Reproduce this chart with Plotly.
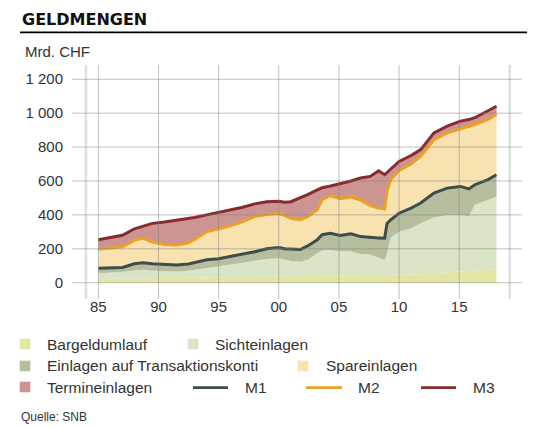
import plotly.graph_objects as go

# ---- data (Mrd. CHF); cumulative levels ----
jahr = [1985.0, 1986.0, 1987.0, 1988.0, 1988.7, 1989.5, 1990.5, 1991.5, 1992.5, 1993.0,
        1994.0, 1995.0, 1996.0, 1997.0, 1998.0, 1999.0, 2000.0, 2000.5, 2001.0, 2001.8,
        2002.4, 2003.2, 2003.6, 2004.3, 2005.1, 2006.0, 2006.8, 2007.6, 2008.3, 2008.8,
        2009.0, 2009.3, 2010.0, 2011.0, 2011.8, 2012.9, 2014.0, 2015.1, 2015.8, 2016.3,
        2017.4, 2018.1]
bargeld = [22, 23, 24, 25, 25, 26, 26, 27, 27, 28,
           28, 29, 30, 31, 32, 33, 34, 34, 35, 35,
           36, 37, 38, 38, 39, 40, 41, 42, 43, 44,
           45, 45, 46, 48, 50, 55, 60, 65, 68, 70,
           76, 80]
sicht_kum = [56, 60, 63, 72, 76, 70, 66, 66, 70, 75,
             88, 98, 108, 118, 130, 140, 144, 135, 128, 124,
             135, 175, 190, 192, 185, 185, 170, 166, 150, 134,
             174, 265, 300, 320, 350, 385, 400, 400, 392, 460,
             489, 505]
m1 = [85, 88, 90, 112, 118, 112, 107, 104, 110, 118,
      135, 142, 155, 170, 183, 200, 207, 200, 200, 196,
      217, 253, 283, 292, 278, 288, 272, 266, 264, 262,
      350, 371, 410, 440, 470, 529, 558, 568, 553, 578,
      608, 637]
m2 = [199, 206, 212, 250, 263, 240, 225, 222, 235, 255,
      300, 318, 335, 360, 390, 402, 410, 395, 380, 371,
      390, 430, 490, 513, 495, 505, 488, 455, 440, 434,
      540, 608, 662, 700, 746, 844, 884, 908, 920, 933,
      963, 992]
m3 = [253, 265, 280, 318, 335, 350, 358, 368, 376, 385,
      400, 415, 430, 445, 465, 478, 480, 475, 478, 500,
      520, 548, 560, 570, 582, 600, 618, 627, 660, 637,
      650, 671, 715, 750, 785, 884, 923, 953, 962, 973,
      1012, 1041]

x_tickvals = [1985, 1990, 1995, 2000, 2005, 2010, 2015]
x_ticktext = ["85", "90", "95", "00", "05", "10", "15"]
y_tickvals = [0, 200, 400, 600, 800, 1000, 1200]
y_ticktext = ["0", "200", "400", "600", "800", "1 000", "1 200"]

C_BAR = "#e4e6a4"
C_SICHT = "#dae4c7"
C_TRANS = "#b6be9d"
C_SPAR = "#f8e2b0"
C_TERM = "#cc9592"
C_M1 = "#3b4e4b"
C_M2 = "#e9a226"
C_M3 = "#8b2a2e"

FONT = "Liberation Sans, Arial, sans-serif"
TXT = "#333333"

OFF = 8  # page body margin
W, H = 547 - OFF, 429 - OFF
X0, X1, Y0, Y1 = 72 - OFF, 522 - OFF, 65 - OFF, 299 - OFF


def px(x):
    return (x - OFF - X0) / (X1 - X0)


def py(y):
    return (Y1 - (y - OFF)) / (Y1 - Y0)


fig = go.Figure()
fills = [(bargeld, C_BAR, "tozeroy"), (sicht_kum, C_SICHT, "tonexty"),
         (m1, C_TRANS, "tonexty"), (m2, C_SPAR, "tonexty"), (m3, C_TERM, "tonexty")]
for vals, col, mode in fills:
    fig.add_trace(go.Scatter(x=jahr, y=vals, mode="lines", line=dict(width=0, color=col),
                             fill=mode, fillcolor=col, showlegend=False, hoverinfo="skip"))
for vals, col in [(m1, C_M1), (m2, C_M2), (m3, C_M3)]:
    fig.add_trace(go.Scatter(x=jahr, y=vals, mode="lines", line=dict(width=3, color=col),
                             showlegend=False, hoverinfo="skip"))

shapes = []
grid = "rgba(130,130,130,0.5)"
for v in y_tickvals:
    shapes.append(dict(type="line", xref="paper", yref="y", x0=0, x1=1, y0=v, y1=v,
                       line=dict(color=grid, width=1), layer="above"))
for v in x_tickvals:
    shapes.append(dict(type="line", xref="x", yref="paper", x0=v, x1=v, y0=0, y1=1,
                       line=dict(color=grid, width=1), layer="above"))
for v in [1983.97, 2019.2]:
    shapes.append(dict(type="line", xref="x", yref="paper", x0=v, x1=v, y0=0, y1=1,
                       line=dict(color="#dedede", width=2.5), layer="below"))
# title rule
shapes.append(dict(type="line", xref="paper", yref="paper", x0=px(20), x1=px(527),
                   y0=py(32.3), y1=py(32.3), line=dict(color="#000000", width=1.7)))

annotations = [
    dict(text="<b>GELDMENGEN</b>", x=px(19.5), y=py(8.2), xanchor="left", yanchor="top",
         font=dict(family="DejaVu Sans, sans-serif", size=16, color="#111111")),
    dict(text="Mrd. CHF", x=px(23), y=py(52), xanchor="left", yanchor="middle",
         font=dict(family=FONT, size=15, color=TXT)),
    dict(text="Quelle: SNB", x=px(18.5), y=py(417), xanchor="left", yanchor="middle",
         font=dict(family=FONT, size=12, color=TXT)),
]

legend_sq = [("Bargeldumlauf", C_BAR, 25, 344, 45), ("Sichteinlagen", C_SICHT, 193, 344, 212.5),
             ("Einlagen auf Transaktionskonti", C_TRANS, 25, 366, 45),
             ("Spareinlagen", C_SPAR, 303, 366, 323.5), ("Termineinlagen", C_TERM, 25, 387, 45)]
for name, col, cx, cy, tx in legend_sq:
    shapes.append(dict(type="rect", xref="paper", yref="paper", x0=px(cx - 5.3), x1=px(cx + 5.3),
                       y0=py(cy + 5.3), y1=py(cy - 5.3), fillcolor=col, line=dict(width=0)))
    annotations.append(dict(text=name, x=px(tx), y=py(cy), xanchor="left", yanchor="middle",
                            font=dict(family=FONT, size=15.5, color=TXT)))
legend_ln = [("M1", C_M1, 193, 228, 242.5), ("M2", C_M2, 306, 342, 356),
             ("M3", C_M3, 421, 456, 470.5)]
for name, col, lx0, lx1, tx in legend_ln:
    shapes.append(dict(type="line", xref="paper", yref="paper", x0=px(lx0), x1=px(lx1),
                       y0=py(387.7), y1=py(387.7), line=dict(color=col, width=2.8)))
    annotations.append(dict(text=name, x=px(tx), y=py(387), xanchor="left", yanchor="middle",
                            font=dict(family=FONT, size=15.5, color=TXT)))
for a in annotations:
    a.update(xref="paper", yref="paper", showarrow=False)

fig.update_layout(
    width=W, height=H,
    margin=dict(l=X0, r=W - X1, t=Y0, b=H - Y1),
    paper_bgcolor="white", plot_bgcolor="white",
    shapes=shapes, annotations=annotations, showlegend=False,
    xaxis=dict(range=[1982.81, 2020.22], tickvals=x_tickvals, ticktext=x_ticktext,
               showgrid=False, zeroline=False, showline=False, ticks="",
               ticklabelstandoff=-3, tickfont=dict(family=FONT, size=15, color=TXT)),
    yaxis=dict(range=[-96, 1284], tickvals=y_tickvals, ticktext=y_ticktext,
               showgrid=False, zeroline=False, showline=False, ticks="",
               ticklabelstandoff=8, tickfont=dict(family=FONT, size=15, color=TXT)),
)

fig.write_html("out.html")
